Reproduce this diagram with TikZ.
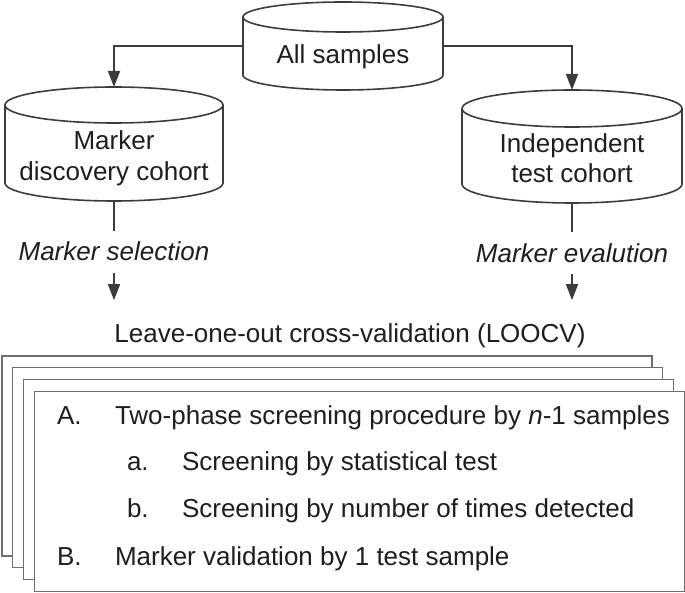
\documentclass[tikz,border=0pt]{standalone}
\usepackage{fontspec}
\setmainfont{Liberation Sans}
\usepackage{tikz}
\usetikzlibrary{arrows.meta}
\definecolor{mline}{RGB}{60,60,60}
\definecolor{mbox}{RGB}{110,110,110}
\definecolor{mtext}{RGB}{30,30,30}

\begin{document}
\begin{tikzpicture}[y=1pt, x=1pt, yscale=-1, xscale=1, inner sep=0pt, outer sep=0pt,
  cyl/.style={draw=mline, line width=1.6pt, fill=white},
  link/.style={draw=mline, line width=1.6pt},
  flow/.style={link, -{Triangle[width=12pt,length=16pt]}},
  sheet/.style={draw=mbox, line width=1.3pt, fill=white},
  txt/.style={text=mtext, font=\fontsize{26}{30.5}\selectfont, align=center},
  steplabel/.style={txt, font=\fontsize{26}{30.5}\selectfont\itshape, inner ysep=11.5pt, anchor=base}]

\fill[white] (0,0) rectangle (685,593);
\useasboundingbox (0,0) rectangle (685,593);

% all samples
\draw[cyl] (243,17) -- (243,75) arc[start angle=180, end angle=0, x radius=100, y radius=15] -- (443,17);
\draw[cyl] (343,17) ellipse [x radius=100, y radius=15];
\node[txt, anchor=base] (all) at (343,63.5) {All samples};
\coordinate (all-w) at (243,46);
\coordinate (all-e) at (443,46);

% marker discovery cohort
\draw[cyl] (5,105) -- (5,183) arc[start angle=180, end angle=0, x radius=109, y radius=18] -- (223,105);
\draw[cyl] (114,105) ellipse [x radius=109, y radius=18];
\node[txt, anchor=base] (disc) at (114,180.5) {Marker\\discovery cohort};
\coordinate (disc-top) at (114,87);
\coordinate (disc-bot) at (114,201);

% independent test cohort
\draw[cyl] (462,108.5) -- (462,184) arc[start angle=180, end angle=0, x radius=110, y radius=19] -- (682,108.5);
\draw[cyl] (572,108.5) ellipse [x radius=110, y radius=18.5];
\node[txt, anchor=base] (indep) at (572,183) {Independent\\test cohort};
\coordinate (indep-top) at (572,90);
\coordinate (indep-bot) at (572,203);

% labels
\node[steplabel] (sel) at (114,261) {Marker selection};
\node[steplabel] (eval) at (572,262.5) {Marker evalution};
\node[txt, anchor=base, inner ysep=23pt] (loocv) at (350,342) {Leave-one-out cross-validation (LOOCV)};

% arrows
\draw[flow] (all-w) -| (disc-top);
\draw[flow] (all-e) -| (indep-top);
\draw[link] (disc-bot) -- (sel.north);
\draw[link] (indep-bot) -- (eval.north);
\draw[flow] (sel.south) -- (sel.south |- loocv.north);
\draw[flow] (eval.south) -- (eval.south |- loocv.north);

% stacked sheets
\foreach \k in {0,...,3}
  \draw[sheet] ({2+10.8*\k},{356+11.8*\k}) rectangle +(650,200);

% procedure
\node[txt, anchor=base west] (ia) at (57,424) {A.};
\node[txt, anchor=base west] (ta) at (115,424) {Two-phase screening procedure by \textit{n}-1 samples};
\node[txt, anchor=base west] (iaa) at (127,470.5) {a.};
\node[txt, anchor=base west] (taa) at (182,470.5) {Screening by statistical test};
\node[txt, anchor=base west] (iab) at (127,517.5) {b.};
\node[txt, anchor=base west] (tab) at (182,517.5) {Screening by number of times detected};
\node[txt, anchor=base west] (ib) at (57,565) {B.};
\node[txt, anchor=base west] (tb) at (115,565) {Marker validation by 1 test sample};

\end{tikzpicture}
\end{document}
